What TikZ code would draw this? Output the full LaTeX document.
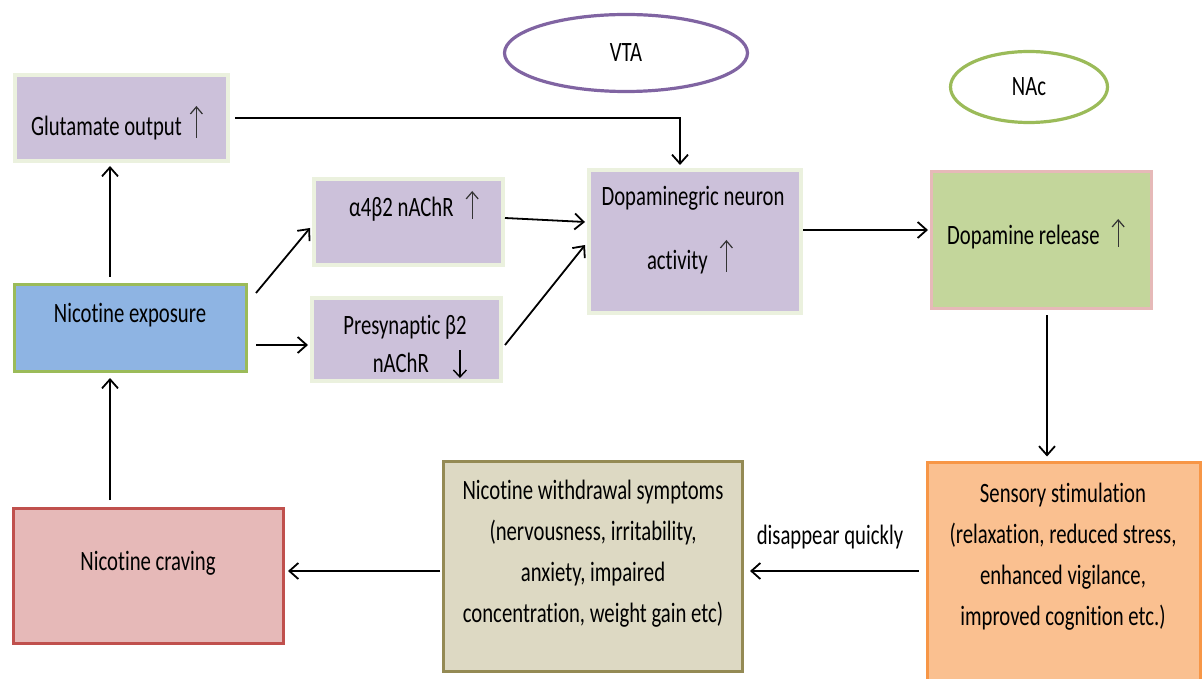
\documentclass[tikz,border=0pt]{standalone}
\usepackage{fontspec}
\setmainfont{Carlito}[FakeStretch=0.74, Ligatures=NoCommon]
\usetikzlibrary{arrows.meta,shapes.geometric,calc}
\definecolor{purplefill}{HTML}{CCC1DA}
\definecolor{lightborder}{HTML}{EBF1DE}
\definecolor{bluefill}{HTML}{8EB4E3}
\definecolor{greenborder}{HTML}{9BBB59}
\definecolor{greenfill}{HTML}{C3D69B}
\definecolor{pinkborder}{HTML}{E6B9B8}
\definecolor{cravfill}{HTML}{E6B9B8}
\definecolor{cravborder}{HTML}{C0504D}
\definecolor{tanfill}{HTML}{DDD9C3}
\definecolor{tanborder}{HTML}{948A54}
\definecolor{orangefill}{HTML}{FAC090}
\definecolor{orangeborder}{HTML}{F79646}
\definecolor{vtaborder}{HTML}{8064A2}
\definecolor{glyphgray}{HTML}{333333}
\newcommand{\upar}[1]{\hspace{4pt}\tikz[baseline=0pt,x=1pt,y=1pt]\draw[glyphgray,line width=0.6pt,-{Straight Barb[length=3.5pt,width=6pt]}] (0,-1) -- (0,#1);}
\newcommand{\dnar}{\tikz[baseline=0pt,x=1pt,y=1pt]\draw[black,line width=0.7pt,-{Straight Barb[length=3.5pt,width=6.5pt]}] (0,11) -- (0,-3);}
\tikzset{
  box/.style={rectangle, inner sep=0pt},
  pbox/.style={box, fill=purplefill, draw=lightborder, line width=2pt},
  txt/.style={font=\fontsize{14}{16}\selectfont, inner sep=0pt, align=center},
  arr/.style={-{Straight Barb[length=4.5pt,width=8pt]}, line width=0.9pt, black},
  oval/.style={ellipse, inner sep=0pt, fill=white, line width=1.6pt, font=\fontsize{14}{16}\selectfont}
}
\begin{document}
\begin{tikzpicture}[x=0.5pt,y=-0.5pt]
\useasboundingbox (0,0) rectangle (1204,679);
\clip (0,0) rectangle (1204,679);
% boxes
\node[pbox, minimum width=106.5pt, minimum height=43pt] (glu) at (121.5,118) {};
\node[pbox, minimum width=94.5pt, minimum height=43pt] (a4) at (408.5,222) {};
\node[pbox, minimum width=94.5pt, minimum height=41.5pt] (pre) at (406.5,339.5) {};
\node[pbox, minimum width=106pt, minimum height=71.5pt] (dopa) at (695,241.5) {};
\node[box, fill=greenfill, draw=pinkborder, line width=1.5pt, minimum width=110pt, minimum height=68.5pt] (dr) at (1041.5,240) {};
\node[box, fill=bluefill, draw=greenborder, line width=1.5pt, minimum width=116pt, minimum height=43.5pt] (nex) at (130.5,328) {};
\node[box, fill=cravfill, draw=cravborder, line width=1.5pt, minimum width=135pt, minimum height=67.5pt] (crav) at (148.5,576) {};
\node[box, fill=tanfill, draw=tanborder, line width=1.5pt, minimum width=149.5pt, minimum height=105pt] (wd) at (593,566.5) {};
\node[box, fill=orangefill, draw=orangeborder, line width=1.5pt, minimum width=136.5pt, minimum height=115pt] (sens) at (1063.5,577) {};
% ellipses
\node[oval, draw=vtaborder, minimum width=121.5pt, minimum height=38.5pt] (vta) at (626,53) {VTA};
\node[oval, draw=greenborder, minimum width=78.5pt, minimum height=35.5pt] (nac) at (1029,87) {NAc};
% texts
\node[txt, anchor=base] (glut) at (117,136) {Glutamate output\upar{15}};
\node[txt, anchor=base] (a4t) at (414,217) {α4β2 nAChR\hspace{2pt}\upar{13}};
\node[txt] (pret1) at (405,327) {Presynaptic β2};
\node[txt, anchor=base] (pret2) at (420,372) {nAChR\hspace{12pt}\dnar};
\node[txt] (dopat1) at (693,198) {Dopaminegric neuron};
\node[txt, anchor=base] (dopat2) at (690,270) {activity\hspace{2pt}\upar{15}};
\node[txt, anchor=base] (drt) at (1036,245) {Dopamine release\hspace{2pt}\upar{13}};
\node[txt] (next) at (130,315) {Nicotine exposure};
\node[txt] (cravt) at (148,563) {Nicotine craving};
\node[txt] (wdt) at (593,554) {Nicotine withdrawal symptoms\\[4.5pt] (nervousness, irritability,\\[4.5pt] anxiety, impaired\\[4.5pt] concentration, weight gain etc)};
\node[txt] (senst) at (1063,557) {Sensory stimulation\\[4.5pt] (relaxation, reduced stress,\\[4.5pt] enhanced vigilance,\\[4.5pt] improved cognition etc.)};
\node[txt] (disq) at (830,537) {disappear quickly};
% connectors
\draw[arr] ([xshift=-10.25pt,yshift=3pt]nex.north) -- ([xshift=-5.75pt,yshift=-1.5pt]glu.south);
\draw[arr] ([xshift=2.5pt]glu.east) -| ([xshift=-7.5pt,yshift=1.5pt]dopa.north);
\draw[arr] ([xshift=4pt,yshift=17.5pt]nex.east) -- ([xshift=-1pt,yshift=-3pt]a4.west);
\draw[arr] ([xshift=4pt,yshift=-8.5pt]nex.east) -- ([xshift=-1pt,yshift=-2.75pt]pre.west);
\draw[arr] ([xshift=0pt,yshift=2pt]a4.east) -- ([xshift=-1pt,yshift=9.75pt]dopa.west);
\draw[arr] ([xshift=1pt,yshift=-2.75pt]pre.east) -- ([xshift=-1pt,yshift=-1.75pt]dopa.west);
\draw[arr] ([yshift=5.75pt]dopa.east) -- ([xshift=-1pt,yshift=5pt]dr.west);
\draw[arr] ([xshift=2.75pt,yshift=-2.5pt]dr.south) -- ([xshift=-8.25pt,yshift=2pt]sens.north);
\draw[arr] ([xshift=-3.5pt,yshift=3pt]sens.west) -- ([xshift=3pt,yshift=-2.25pt]wd.east);
\draw[arr] ([xshift=-1pt,yshift=-2.25pt]wd.west) -- ([xshift=1.5pt,yshift=2.5pt]crav.east);
\draw[arr] ([xshift=-19.25pt,yshift=3.5pt]crav.north) -- ([xshift=-10.25pt,yshift=-2.5pt]nex.south);
\end{tikzpicture}
\end{document}
